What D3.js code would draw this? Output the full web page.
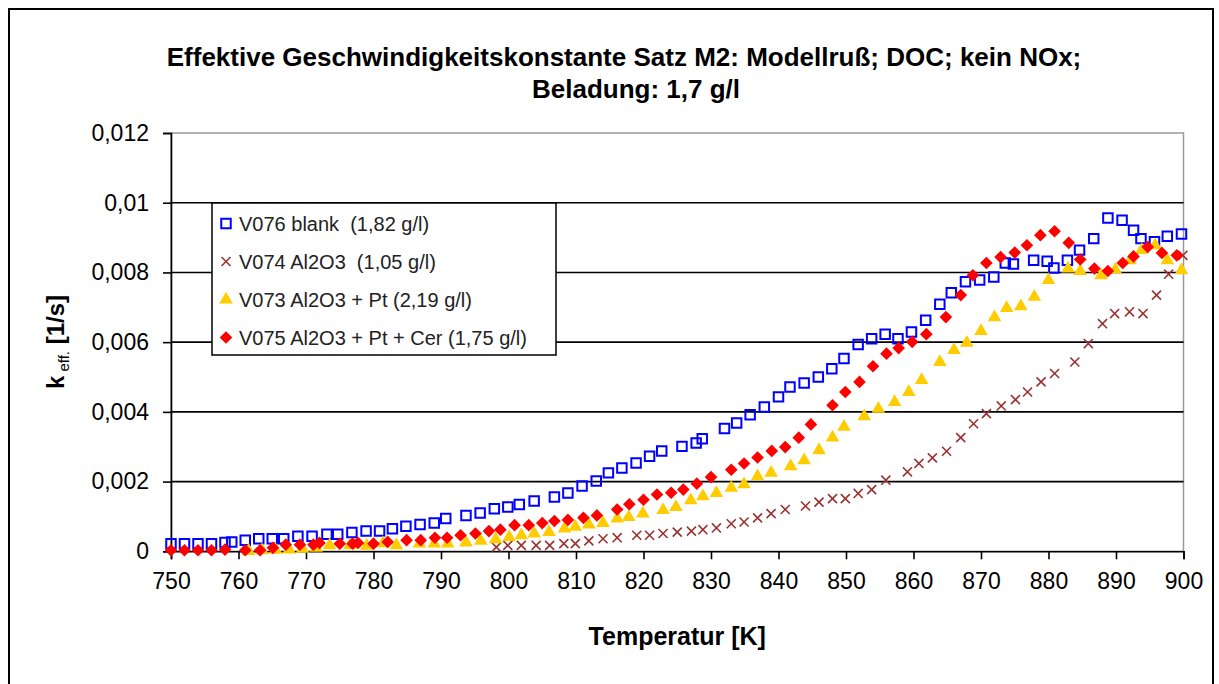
<!DOCTYPE html>
<html>
<head>
<meta charset="utf-8">
<title>Effektive Geschwindigkeitskonstante</title>
<script src="https://cdn.jsdelivr.net/npm/d3@7"></script>
<style>
    body { margin: 0; background: #fff; }
    text { font-family: Arial, "Liberation Sans", sans-serif; fill: #000; }
</style>
</head>
<body>
<svg id="mainsvg" width="1219" height="684"></svg>
<script>
// --- data: [temperature K, k_eff 1/s] ---
const blank = [[750,0.00022],[752,0.00022],[754,0.00022],[756,0.00022],[758,0.00025],[759,0.00027],[761,0.00032],[763,0.00036],[765,0.00036],[766.7,0.00036],[768.8,0.00043],[770.9,0.00043],[773.1,0.00049],[774.7,0.00049],[776.8,0.00054],[778.9,0.00058],[780.9,0.00058],[782.8,0.00065],[784.8,0.00072],[786.9,0.00077],[789,0.00081],[790.7,0.00094],[793.7,0.00103],[795.8,0.0011],[797.9,0.00122],[799.9,0.00127],[801.6,0.00134],[803.8,0.00144],[806.8,0.00156],[808.8,0.00167],[810.9,0.00187],[813,0.00202],[814.8,0.00225],[816.8,0.00239],[818.9,0.00253],[820.9,0.00273],[822.7,0.00288],[825.7,0.00301],[827.8,0.00311],[828.7,0.00323],[832,0.00352],[833.8,0.00368],[835.8,0.00392],[837.9,0.00414],[840,0.00443],[841.7,0.00471],[843.8,0.00483],[845.9,0.005],[847.9,0.00524],[849.7,0.00553],[851.8,0.00593],[853.8,0.0061],[855.8,0.00623],[857.7,0.0061],[859.7,0.00629],[861.8,0.00663],[863.9,0.00709],[865.6,0.00742],[867.7,0.00773],[869.8,0.00778],[871.9,0.00787],[873.6,0.00827],[874.8,0.00824],[877.8,0.00835],[879.8,0.00832],[880.8,0.00813],[882.8,0.00835],[884.6,0.00864],[886.7,0.00897],[888.8,0.00956],[890.9,0.0095],[892.6,0.00921],[893.7,0.00897],[895.7,0.00888],[897.6,0.00904],[899.7,0.0091]];

const al2o3 = [[798.2,0.00012],[799.9,0.00017],[801.9,0.00017],[804.1,0.00017],[806.1,0.00017],[808.2,0.00022],[809.9,0.00022],[811.9,0.0003],[814,0.00036],[816.1,0.00039],[819,0.00046],[820.9,0.00046],[822.9,0.00051],[825,0.00055],[827.1,0.00058],[828.8,0.00062],[830.8,0.00067],[833,0.00079],[834.9,0.00084],[836.9,0.00096],[838.9,0.00108],[841,0.0012],[844,0.0013],[846,0.00141],[848,0.00151],[849.9,0.00151],[851.8,0.00166],[853.8,0.00177],[855.9,0.00204],[859.1,0.00228],[860.8,0.00252],[862.8,0.00268],[864.9,0.00287],[867,0.00326],[868.9,0.00366],[870.8,0.00395],[873,0.00417],[875.1,0.00435],[876.9,0.00457],[878.9,0.00486],[880.9,0.0051],[883.9,0.00543],[885.9,0.00596],[888,0.00653],[889.8,0.00682],[892,0.00687],[894,0.00682],[896,0.00735],[897.8,0.00795],[899.9,0.00849]];

const al2o3Pt = [[761.5,0.00001],[763.5,0.00003],[765.5,0.00004],[767.5,0.00005],[769.5,0.00007],[771.5,0.0001],[773.5,0.00017],[776.5,0.00017],[779,0.00016],[781.4,0.00023],[783.4,0.00017],[786.8,0.00022],[789,0.00022],[791,0.00022],[793.7,0.00025],[795.9,0.0003],[798.1,0.00034],[800.1,0.00041],[801.9,0.00046],[803.8,0.00051],[806,0.00055],[808.3,0.00065],[809.9,0.0007],[811.9,0.00077],[814,0.00081],[816.1,0.00094],[817.8,0.00098],[819.9,0.00108],[822.9,0.00118],[824.8,0.00127],[827,0.00146],[828.8,0.00158],[830.8,0.00167],[833,0.00182],[834.9,0.00192],[836.9,0.00215],[838.9,0.00225],[841.8,0.00244],[843.8,0.00261],[846,0.0029],[848,0.00326],[849.7,0.00357],[852.7,0.00387],[854.8,0.00409],[857.2,0.00428],[859.3,0.00457],[861.2,0.00491],[863.9,0.00543],[866,0.00577],[867.9,0.00598],[870,0.00632],[872,0.00671],[873.8,0.00698],[875.9,0.00703],[877.9,0.0073],[880,0.00778],[882.9,0.00811],[884.7,0.00804],[887.8,0.00792],[889.9,0.00808],[892.1,0.00835],[893.8,0.00864],[895.8,0.00878],[897.6,0.00835],[899.7,0.00806]];

const al2o3PtCer = [[750,0.00003],[752,0.00003],[754,0.00003],[756,0.00003],[758,0.00005],[761,0.00003],[763.2,0.00003],[765.1,0.0001],[767,0.00019],[769.1,0.00019],[771.1,0.00019],[772,0.00024],[775,0.00022],[776.9,0.00022],[777.7,0.00024],[780,0.00022],[782.1,0.00027],[784.9,0.00032],[787,0.00032],[789.1,0.00039],[790.9,0.00039],[792.9,0.00046],[795.1,0.00051],[797.1,0.00058],[798.8,0.00062],[800.9,0.00075],[803,0.00075],[805,0.00081],[806.8,0.00087],[808.8,0.0009],[811.1,0.00096],[813.1,0.00103],[816.1,0.0012],[817.9,0.00135],[820,0.00148],[822,0.00163],[824.1,0.00168],[825.9,0.00177],[827.9,0.00194],[830,0.00213],[833,0.00234],[834.9,0.00252],[836.9,0.00269],[839,0.00288],[841,0.00299],[843,0.00326],[844.8,0.00364],[848,0.00419],[849.9,0.00457],[852,0.00486],[854,0.00531],[856,0.00567],[857.8,0.00583],[859.8,0.00601],[861.9,0.00623],[864.8,0.00672],[867,0.00735],[868.8,0.00792],[870.8,0.00827],[872.9,0.00844],[875,0.00857],[876.8,0.00878],[878.8,0.00907],[880.9,0.00918],[883,0.00885],[884.7,0.00837],[886.8,0.00811],[888.8,0.00804],[891,0.00827],[892.6,0.00846],[894.7,0.00873],[896.8,0.00856],[899,0.00849]];

const seriesNames = ['V076 blank  (1,82 g/l)', 'V074 Al2O3  (1,05 g/l)', 'V073 Al2O3 + Pt (2,19 g/l)', 'V075 Al2O3 + Pt + Cer (1,75 g/l)'];
const xTicks = [750, 760, 770, 780, 790, 800, 810, 820, 830, 840, 850, 860, 870, 880, 890, 900];
const yTicks = [0, 0.002, 0.004, 0.006, 0.008, 0.01, 0.012];
const yTickLabels = ['0', '0,002', '0,004', '0,006', '0,008', '0,01', '0,012'];

const svg = d3.select('#mainsvg');
const margin = { top: 133, left: 171, right: 1219 - 1183.5, bottom: 684 - 551.3 };
const innerWidth = 1219 - margin.left - margin.right;
const innerHeight = 684 - margin.top - margin.bottom;

// chart frame (runs past the bottom edge like in the screenshot)
svg.append('path').attr('d', 'M9,684V9H1213V684')
    .attr('fill', 'none').attr('stroke', '#000').attr('stroke-width', 2);

const g = svg.append('g').attr('transform', `translate(${margin.left}, ${margin.top})`);

const xScale = d3.scaleLinear().domain([750, 900]).range([0, innerWidth]);
const yScale = d3.scaleLinear().domain([0, 0.012]).range([innerHeight, 0]);

// plot area border (grey) and gridlines (black)
g.append('rect').attr('width', innerWidth).attr('height', innerHeight)
    .attr('fill', 'none').attr('stroke', '#999').attr('stroke-width', 1.5);
g.selectAll('.grid').data(yTicks.filter(d => d > 0 && d < 0.012)).join('line')
    .attr('class', 'grid')
    .attr('x1', 0).attr('x2', innerWidth)
    .attr('y1', d => yScale(d)).attr('y2', d => yScale(d))
    .attr('stroke', '#000').attr('stroke-width', 1.6);

// axes
const yAxis = d3.axisLeft(yScale).tickValues(yTicks).tickSize(8).tickPadding(14)
    .tickFormat((d, i) => yTickLabels[i]);
const xAxis = d3.axisBottom(xScale).tickValues(xTicks).tickSize(8).tickPadding(13)
    .tickFormat(d3.format('d'));
const yg = g.append('g').call(yAxis);
const xg = g.append('g').attr('transform', `translate(0, ${innerHeight})`).call(xAxis);
[yg, xg].forEach(a => {
    a.select('.domain').attr('stroke', '#000').attr('stroke-width', 1.6);
    a.selectAll('.tick line').attr('stroke', '#000').attr('stroke-width', 1.6);
    a.selectAll('.tick text').attr('font-size', 23).attr('fill', '#222')
        .style('font-family', 'Arial, "Liberation Sans", sans-serif');
});

// markers
const sq = d3.symbol().type(d3.symbolSquare).size(90);
const tri = d3.symbol().type(d3.symbolTriangle).size(80);
const dia = d3.symbol().type(d3.symbolSquare).size(80);
const cross = d3.symbol().type(d3.symbolX || d3.symbolCross).size(55);

const styles = [
    { data: blank, path: sq(), fill: 'none', stroke: '#0000ff', sw: 2, rot: 0 },
    { data: al2o3, path: cross(), fill: 'none', stroke: '#993333', sw: 1.6, rot: 0 },
    { data: al2o3Pt, path: tri(), fill: '#ffcc00', stroke: 'none', sw: 0, rot: 0 },
    { data: al2o3PtCer, path: dia(), fill: '#ff0000', stroke: 'none', sw: 0, rot: 45 }
];

styles.forEach(s => {
    g.append('g').selectAll('path').data(s.data).join('path')
        .attr('d', s.path)
        .attr('transform', d => `translate(${xScale(d[0])}, ${yScale(d[1])}) rotate(${s.rot})`)
        .attr('fill', s.fill).attr('stroke', s.stroke).attr('stroke-width', s.sw);
});

// legend
const legend = svg.append('g').attr('transform', 'translate(212, 203)');
legend.append('rect').attr('width', 344).attr('height', 152)
    .attr('fill', '#fff').attr('stroke', '#000').attr('stroke-width', 1.5);
styles.forEach((s, i) => {
    const cy = 20.5 + i * 38;
    legend.append('path').attr('d', s.path)
        .attr('transform', `translate(14, ${cy}) rotate(${s.rot})`)
        .attr('fill', s.fill).attr('stroke', s.stroke).attr('stroke-width', s.sw);
    legend.append('text').attr('x', 27).attr('y', cy + 7)
        .attr('font-size', 20).attr('xml:space', 'preserve').style('white-space', 'pre')
        .style('fill', '#222').text(seriesNames[i]);
});

// titles
svg.append('text').attr('x', 624).attr('y', 66).attr('text-anchor', 'middle')
    .attr('font-size', 26).attr('font-weight', 'bold')
    .text('Effektive Geschwindigkeitskonstante Satz M2: Modellruß; DOC; kein NOx;');
svg.append('text').attr('x', 636).attr('y', 98).attr('text-anchor', 'middle')
    .attr('font-size', 26).attr('font-weight', 'bold')
    .text('Beladung: 1,7 g/l');

svg.append('text').attr('x', margin.left + innerWidth / 2).attr('y', 645).attr('text-anchor', 'middle')
    .attr('font-size', 25).attr('font-weight', 'bold').text('Temperatur [K]');

const yl = svg.append('text').attr('transform', 'translate(64, 342) rotate(-90)')
    .attr('text-anchor', 'middle').attr('font-size', 24).attr('font-weight', 'bold');
yl.append('tspan').text('k');
yl.append('tspan').attr('font-size', 15).attr('font-weight', 'normal').attr('dy', 5).text(' eff.');
yl.append('tspan').attr('dy', -5).text(' [1/s]');
</script>
</body>
</html>
